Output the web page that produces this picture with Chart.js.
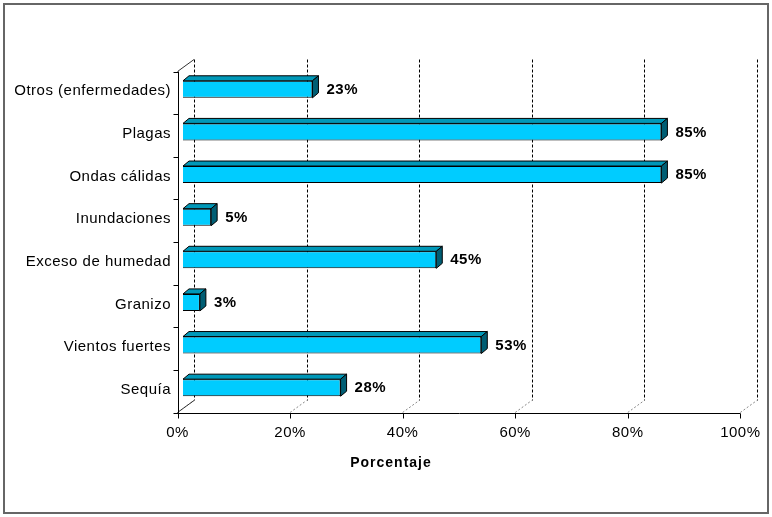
<!DOCTYPE html>
<html>
<head>
<meta charset="utf-8">
<script src="https://cdn.jsdelivr.net/npm/chart.js@4"></script>
<style>
  body { margin: 0; background: #fff; }
  #wrap { width: 772px; height: 517px; position: relative; }
</style>
</head>
<body>
<div id="wrap"><canvas id="chart"></canvas></div>
<script>
// Data
const categories = ['Otros (enfermedades)', 'Plagas', 'Ondas cálidas', 'Inundaciones',
  'Exceso de humedad', 'Granizo', 'Vientos fuertes', 'Sequía'];
const values = [23, 85, 85, 5, 45, 3, 53, 28];
const xTicks = [0, 20, 40, 60, 80, 100];
const axisTitle = 'Porcentaje';

const FONT = '"Liberation Sans", Arial, sans-serif';
const DEPTH = { dx: 6, dy: 5 };          // bar thickness in 3D
const FRONT = { dx: -5.5, dy: 3.5 };     // front axis offset from plot area
const BACK = { dx: 11, dy: -8.5 };       // back wall offset from plot area

// walls, gridlines and front axes (3D look)
const wallsPlugin = {
  id: 'walls',
  beforeDraw(chart) {
    chart.ctx.letterSpacing = '0.5px';
  },
  beforeDatasetsDraw(chart) {
    const { ctx, chartArea: a, scales: { x, y } } = chart;
    ctx.save();
    // back wall gridlines (dashed)
    ctx.strokeStyle = '#000';
    ctx.lineWidth = 1;
    ctx.setLineDash([3, 2]);
    xTicks.forEach(v => {
      const px = Math.round(x.getPixelForValue(v) + BACK.dx) + 0.5;
      ctx.beginPath();
      ctx.moveTo(px, a.top + BACK.dy);
      ctx.lineTo(px, a.bottom + BACK.dy);
      ctx.stroke();
    });
    // floor lines (gray dotted)
    ctx.strokeStyle = '#888';
    ctx.setLineDash([2, 2]);
    xTicks.forEach(v => {
      const px = x.getPixelForValue(v);
      ctx.beginPath();
      ctx.moveTo(px + FRONT.dx, a.bottom + FRONT.dy);
      ctx.lineTo(px + BACK.dx, a.bottom + BACK.dy);
      ctx.stroke();
    });
    ctx.setLineDash([]);
    // left wall edges
    ctx.strokeStyle = '#333';
    const x0 = x.getPixelForValue(0);
    ctx.beginPath();
    ctx.moveTo(x0 + FRONT.dx, a.top + FRONT.dy);
    ctx.lineTo(x0 + BACK.dx, a.top + BACK.dy);
    ctx.moveTo(x0 + FRONT.dx, a.bottom + FRONT.dy);
    ctx.lineTo(x0 + BACK.dx, a.bottom + BACK.dy);
    ctx.stroke();
    // front axes
    ctx.strokeStyle = '#000';
    const fy = Math.round(a.bottom + FRONT.dy) + 0.5;
    const fx = Math.round(x0 + FRONT.dx) + 0.5;
    ctx.beginPath();
    ctx.moveTo(fx, a.top + FRONT.dy);
    ctx.lineTo(fx, fy);
    ctx.lineTo(x.getPixelForValue(100) + FRONT.dx, fy);
    ctx.stroke();
    // x ticks
    ctx.beginPath();
    xTicks.forEach(v => {
      const px = Math.round(x.getPixelForValue(v) + FRONT.dx) + 0.5;
      ctx.moveTo(px, fy);
      ctx.lineTo(px, fy + 5);
    });
    // y category boundary ticks
    const step = (a.bottom - a.top) / categories.length;
    for (let i = 0; i <= categories.length; i++) {
      const py = Math.round(a.top + FRONT.dy + i * step) + 0.5;
      ctx.moveTo(fx, py);
      ctx.lineTo(fx - 5, py);
    }
    ctx.stroke();
    ctx.restore();
  },
  afterDatasetsDraw(chart) {
    const { ctx } = chart;
    const meta = chart.getDatasetMeta(0);
    ctx.save();
    ctx.lineWidth = 1;
    ctx.strokeStyle = '#000';
    ctx.lineJoin = 'round';
    meta.data.forEach((bar, i) => {
      const { x, y, base, height } = bar.getProps(['x', 'y', 'base', 'height'], true);
      const top = y - height / 2, bottom = y + height / 2;
      // top face
      ctx.fillStyle = '#0098B8';
      ctx.beginPath();
      ctx.moveTo(base, top);
      ctx.lineTo(base + DEPTH.dx, top - DEPTH.dy);
      ctx.lineTo(x + DEPTH.dx, top - DEPTH.dy);
      ctx.lineTo(x, top);
      ctx.closePath();
      ctx.fill(); ctx.stroke();
      // side face
      ctx.fillStyle = '#005E74';
      ctx.beginPath();
      ctx.moveTo(x, top);
      ctx.lineTo(x + DEPTH.dx, top - DEPTH.dy);
      ctx.lineTo(x + DEPTH.dx, bottom - DEPTH.dy);
      ctx.lineTo(x, bottom);
      ctx.closePath();
      ctx.fill(); ctx.stroke();
      // value label
      ctx.fillStyle = '#000';
      ctx.font = 'bold 15px ' + FONT;
      ctx.textAlign = 'left';
      ctx.textBaseline = 'middle';
      ctx.fillText(values[i] + '%', x + 14, y + 0.5);
    });
    ctx.restore();
  },
  afterDraw(chart) {
    const { ctx } = chart;
    ctx.save();
    ctx.fillStyle = '#000';
    ctx.font = 'bold 14px ' + FONT;
    ctx.letterSpacing = '1px';
    ctx.textAlign = 'center';
    ctx.textBaseline = 'middle';
    ctx.fillText(axisTitle, 391, 463);
    // outer frame
    ctx.strokeStyle = '#666';
    ctx.lineWidth = 2;
    ctx.strokeRect(4, 4, 764, 509);
    ctx.restore();
  }
};

new Chart(document.getElementById('chart'), {
  type: 'bar',
  data: {
    labels: categories,
    datasets: [{
      data: values,
      backgroundColor: '#00CCFF',
      borderColor: '#000',
      borderWidth: 1,
      categoryPercentage: 1,
      barPercentage: 0.4,
    }]
  },
  options: {
    indexAxis: 'y',
    responsive: true, maintainAspectRatio: false,
    animation: false,
    layout: { padding: { left: 0, top: 68, right: 23, bottom: 0 } },
    plugins: { legend: { display: false }, tooltip: { enabled: false } },
    scales: {
      x: {
        min: 0, max: 100,
        afterFit: s => { s.height = 108; },
        afterBuildTicks: s => { s.ticks = xTicks.map(v => ({ value: v })); },
        grid: { display: false },
        border: { display: false },
        ticks: {
          color: '#000', padding: 7, labelOffset: -5.5,
          font: { family: FONT, size: 15 },
          callback: v => v + '%',
        }
      },
      y: {
        afterFit: s => { s.width = 183; },
        grid: { display: false },
        border: { display: false },
        ticks: {
          color: '#000', padding: 4, labelOffset: 2,
          font: { family: FONT, size: 15 },
        }
      }
    }
  },
  plugins: [wallsPlugin]
});
</script>
</body>
</html>
